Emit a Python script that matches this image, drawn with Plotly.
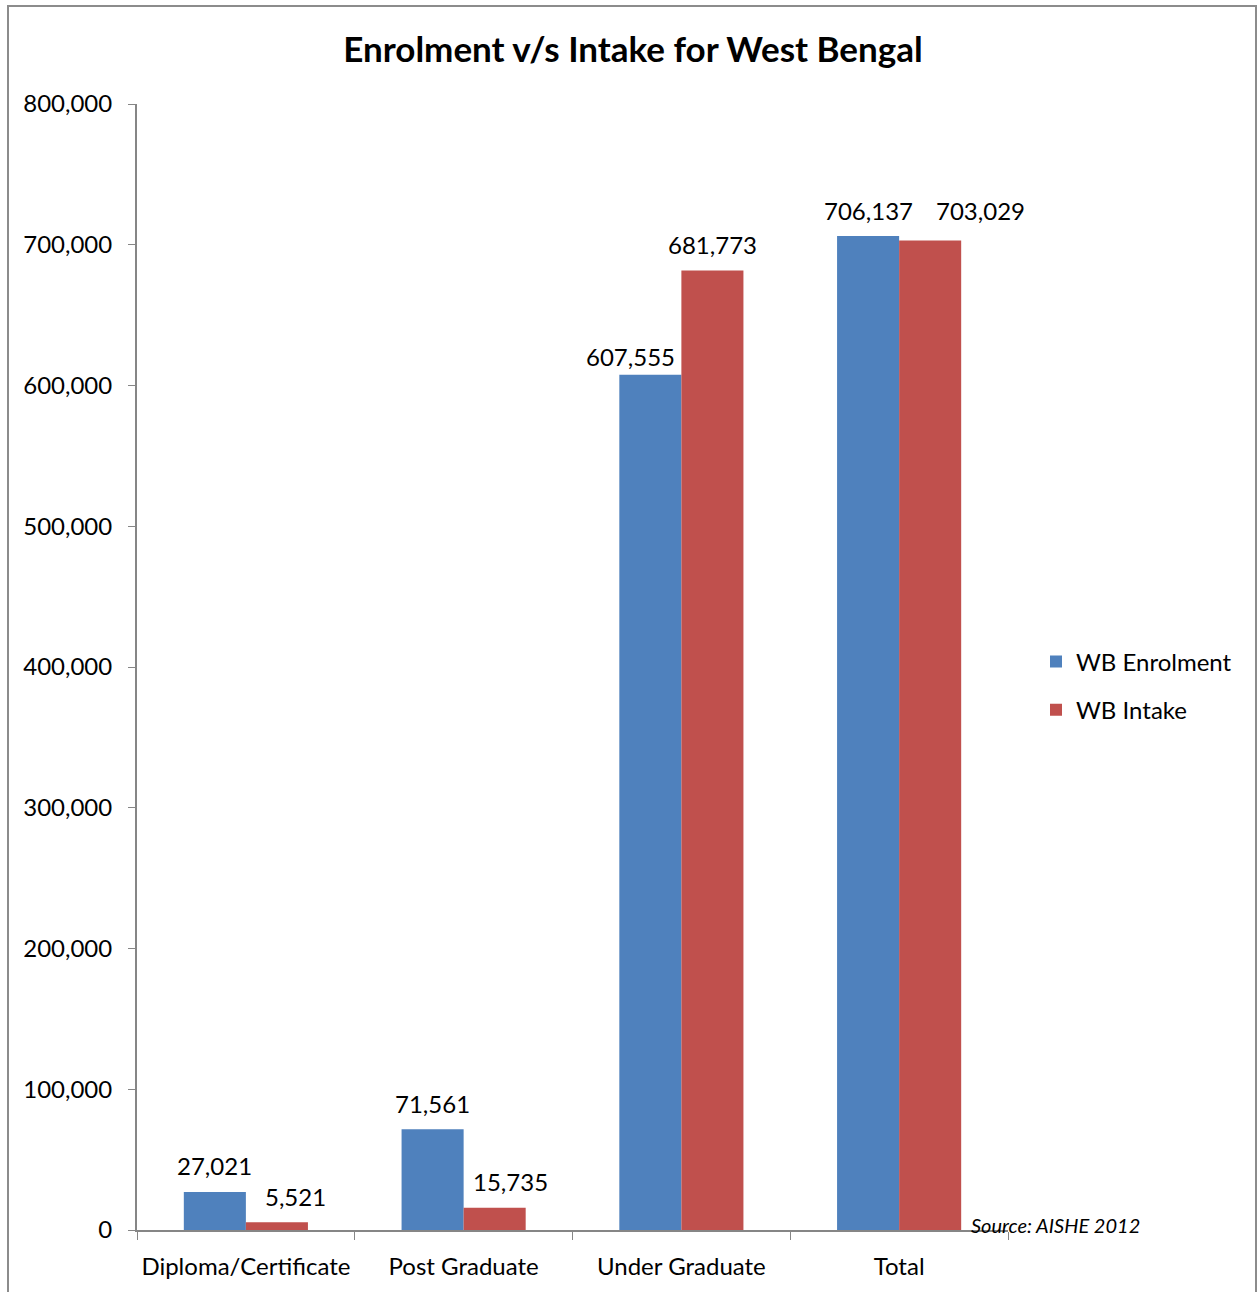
import plotly.graph_objects as go

categories = ["Diploma/Certificate", "Post Graduate", "Under Graduate", "Total"]
enrolment = [27021, 71561, 607555, 706137]
intake = [5521, 15735, 681773, 703029]
ytick_vals = [0, 100000, 200000, 300000, 400000, 500000, 600000, 700000, 800000]

# label placement (pixel offsets from category centre / bar top), styling only
enrol_label_dx = [-31, -31, -51, -31]
enrol_label_dy = [26, 26, 18, 26]
intake_label_dx = [50, 47, 31, 81]
intake_label_dy = [26, 26, 26, 30]

FONT = "Lato"
W, H = 1258, 1292
L, R, T, B = 137, 250, 104, 62
pw = W - L - R
ph = H - T - B

fig = go.Figure()
fig.add_trace(go.Bar(
    x=categories, y=enrolment, name="WB Enrolment", legendgroup="a",
    marker=dict(color="#4F81BD", line=dict(width=0)),
))
fig.add_trace(go.Bar(
    x=categories, y=intake, name="WB Intake", legendgroup="b",
    marker=dict(color="#C0504D", line=dict(width=0)),
))

def px_x(p):
    return (p - L) / pw

def px_y(p):
    return (H - B - p) / ph

annotations = []
for cat, v, dx, dy in zip(categories, enrolment, enrol_label_dx, enrol_label_dy):
    annotations.append(dict(x=cat, y=v, xref="x", yref="y", text=f"{v:,}",
                            showarrow=False, xshift=dx, yshift=dy,
                            xanchor="center", yanchor="middle",
                            font=dict(size=24, family=FONT, color="black")))
for cat, v, dx, dy in zip(categories, intake, intake_label_dx, intake_label_dy):
    annotations.append(dict(x=cat, y=v, xref="x", yref="y", text=f"{v:,}",
                            showarrow=False, xshift=dx, yshift=dy,
                            xanchor="center", yanchor="middle",
                            font=dict(size=24, family=FONT, color="black")))
annotations.append(dict(text="<i>Source: AISHE 2012</i>", xref="paper", yref="paper",
                        x=px_x(969), y=px_y(1225), xanchor="left", yanchor="middle",
                        showarrow=False, font=dict(size=20, family=FONT, color="black")))

fig.update_layout(
    width=W, height=H,
    margin=dict(l=L, r=R, t=T, b=B, autoexpand=False),
    paper_bgcolor="white", plot_bgcolor="white",
    font=dict(family=FONT, size=24, color="black"),
    title=dict(text="<b>Enrolment v/s Intake for West Bengal</b>",
               xref="container", x=633 / W, xanchor="center",
               y=1 - 50 / H, yanchor="middle",
               font=dict(size=35, family=FONT, color="black")),
    barmode="group", bargap=0.43, bargroupgap=0,
    showlegend=True,
    legend=dict(x=px_x(1036), xanchor="left", y=px_y(686), yanchor="middle",
                font=dict(size=24, family=FONT), tracegroupgap=14,
                itemwidth=30, bgcolor="rgba(0,0,0,0)"),
    xaxis=dict(range=[-0.5, len(categories) - 0.5], autorange=False,
               showgrid=False, showline=True, linecolor="#868686", linewidth=2,
               ticks="outside", tickson="boundaries", ticklen=8, tickcolor="#868686",
               ticklabelstandoff=14, tickangle=0, automargin=False,
               tickfont=dict(size=24, family=FONT)),
    yaxis=dict(range=[0, 800000], tickvals=ytick_vals, tickformat=",d",
               showgrid=False, zeroline=False, showline=True, linecolor="#868686",
               linewidth=2, ticks="outside", ticklen=7, tickcolor="#868686",
               ticklabelstandoff=11, automargin=False,
               tickfont=dict(size=24, family=FONT)),
    shapes=[dict(type="rect", xref="paper", yref="paper",
                 x0=px_x(8), x1=px_x(1256), y0=px_y(1310), y1=px_y(6),
                 line=dict(color="#8C8C8C", width=2), fillcolor="rgba(0,0,0,0)",
                 layer="below")],
    annotations=annotations,
)

fig.write_html("out.html")
